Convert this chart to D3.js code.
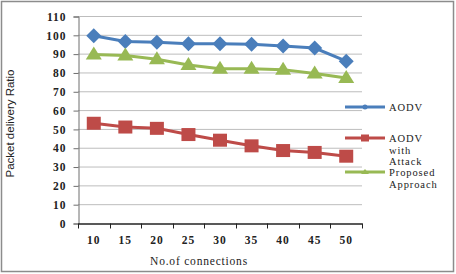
<!DOCTYPE html>
<html><head><meta charset="utf-8">
<script src="https://cdnjs.cloudflare.com/ajax/libs/d3/7.8.5/d3.min.js"></script>
<style>body{margin:0;background:#fff}svg{display:block}
.sf{font-family:'Liberation Serif','DejaVu Serif','Times New Roman',serif}
</style>
</head><body>
<script>
const categories = [10, 15, 20, 25, 30, 35, 40, 45, 50];
const aodv = [99.5, 96.5, 96, 95.3, 95.3, 95, 94, 93, 86];
const aodvAttack = [53, 51, 50.3, 47, 44, 41, 38.5, 37.5, 35.5];
const proposed = [89.5, 89, 87, 84, 82, 82, 81.5, 79.5, 77];
const yTicks = [0, 10, 20, 30, 40, 50, 60, 70, 80, 90, 100, 110];

(function () {
const W = 456, H = 274;
const svg = d3.select("body").append("svg").attr("width", W).attr("height", H);
svg.append("rect").attr("x", 1.5).attr("y", 1.5).attr("width", W - 4).attr("height", H - 4)
  .attr("fill", "#fff").attr("stroke", "#8c8c8c").attr("stroke-width", 1.5);

const pl = 78, pr = 362, pt = 16, pb = 223;
const x = d3.scaleBand().domain(categories).range([pl, pr]);
const y = d3.scaleLinear().domain([0, 110]).range([pb, pt]);

svg.append("g").selectAll("line").data(yTicks.filter(d => d > 0)).join("line")
  .attr("x1", pl).attr("x2", pr).attr("y1", d => y(d) + 0.5).attr("y2", d => y(d) + 0.5)
  .attr("stroke", "#bdbdbd").attr("stroke-width", 1);

const yAxis = d3.axisLeft(y).tickValues(yTicks).tickSize(5).tickPadding(7);
const gy = svg.append("g").attr("transform", `translate(${pl + 0.5},0.5)`).call(yAxis);
gy.attr("font-family", null);
gy.select(".domain").attr("stroke", "#6e6e6e");
gy.selectAll(".tick line").attr("stroke", "#6e6e6e");
gy.selectAll("text").attr("class", "sf").style("font-weight", "bold")
  .style("font-size", "11.5px").attr("letter-spacing", 1).attr("fill", "#222");

const xAxis = d3.axisBottom(x).tickSize(0).tickPadding(12);
const gx = svg.append("g").attr("transform", `translate(0,${pb + 0.5})`).call(xAxis);
gx.attr("font-family", null);
gx.select(".domain").attr("stroke", "#222").attr("stroke-width", 1.5);
gx.selectAll("text").attr("class", "sf").style("font-weight", "bold")
  .style("font-size", "11.5px").attr("letter-spacing", 1).attr("fill", "#222");
const bounds = categories.map(c => x(c)).concat([x(categories[categories.length - 1]) + x.bandwidth()]);
gx.selectAll(".bnd").data(bounds).join("line").attr("class", "bnd")
  .attr("x1", d => Math.round(d) + 0.5).attr("x2", d => Math.round(d) + 0.5).attr("y1", 0).attr("y2", 5)
  .attr("stroke", "#222");

const cx = c => x(c) + x.bandwidth() / 2;
const line = d3.line().x((d, i) => cx(categories[i])).y(d => y(d));

function series(vals, color, shape) {
  svg.append("path").datum(vals).attr("d", line).attr("fill", "none")
    .attr("stroke", color).attr("stroke-width", 3);
  const g = svg.append("g");
  vals.forEach((v, i) => {
    const px = cx(categories[i]), py = y(v);
    if (shape === "diamond") {
      g.append("path").attr("d", `M${px},${py - 7.5}L${px + 7.5},${py}L${px},${py + 7.5}L${px - 7.5},${py}Z`).attr("fill", color);
    } else if (shape === "square") {
      g.append("rect").attr("x", px - 7).attr("y", py - 6.5).attr("width", 14).attr("height", 13).attr("fill", color);
    } else {
      g.append("path").attr("d", `M${px},${py - 8}L${px + 8},${py + 5}L${px - 8},${py + 5}Z`).attr("fill", color);
    }
  });
}
series(aodv, "#4a7ebb", "diamond");
series(aodvAttack, "#be4b48", "square");
series(proposed, "#98b954", "triangle");

svg.append("text").attr("transform", `translate(14,${(pt + pb) / 2 + 4}) rotate(-90)`)
  .attr("text-anchor", "middle").style("font-family", "'Liberation Sans Narrow','Liberation Sans',sans-serif")
  .style("font-size", "11.5px").attr("fill", "#222").text("Packet delivery Ratio");
svg.append("text").attr("class", "sf").attr("x", 199).attr("y", 265).attr("text-anchor", "middle")
  .style("font-size", "11.5px").attr("letter-spacing", 0.8).attr("fill", "#222")
  .text("No.of connections");

const legend = [
  {name: ["AODV"], color: "#4a7ebb", y: 107, mk: "dot"},
  {name: ["AODV", "with", "Attack"], color: "#be4b48", y: 138, mk: "sq"},
  {name: ["Proposed", "Approach"], color: "#98b954", y: 172, mk: "tri"}
];
const lg = svg.append("g");
legend.forEach(l => {
  lg.append("line").attr("x1", 345).attr("x2", 385).attr("y1", l.y).attr("y2", l.y)
    .attr("stroke", l.color).attr("stroke-width", 3);
  if (l.mk === "dot") lg.append("circle").attr("cx", 365).attr("cy", l.y).attr("r", 2.5).attr("fill", l.color);
  else if (l.mk === "sq") lg.append("rect").attr("x", 361).attr("y", l.y - 3.5).attr("width", 8).attr("height", 7).attr("fill", l.color);
  else lg.append("path").attr("d", `M365,${l.y - 3}L369,${l.y + 2}L361,${l.y + 2}Z`).attr("fill", l.color);
  const t = lg.append("text").attr("class", "sf").attr("x", 389).attr("y", l.y + 4)
    .style("font-size", "10.5px").attr("fill", "#222")
    .attr("letter-spacing", 0.9);
  l.name.forEach((n, i) => t.append("tspan").attr("x", 389).attr("dy", i === 0 ? 0 : 11.5).text(n));
});
})();
</script>
</body></html>
